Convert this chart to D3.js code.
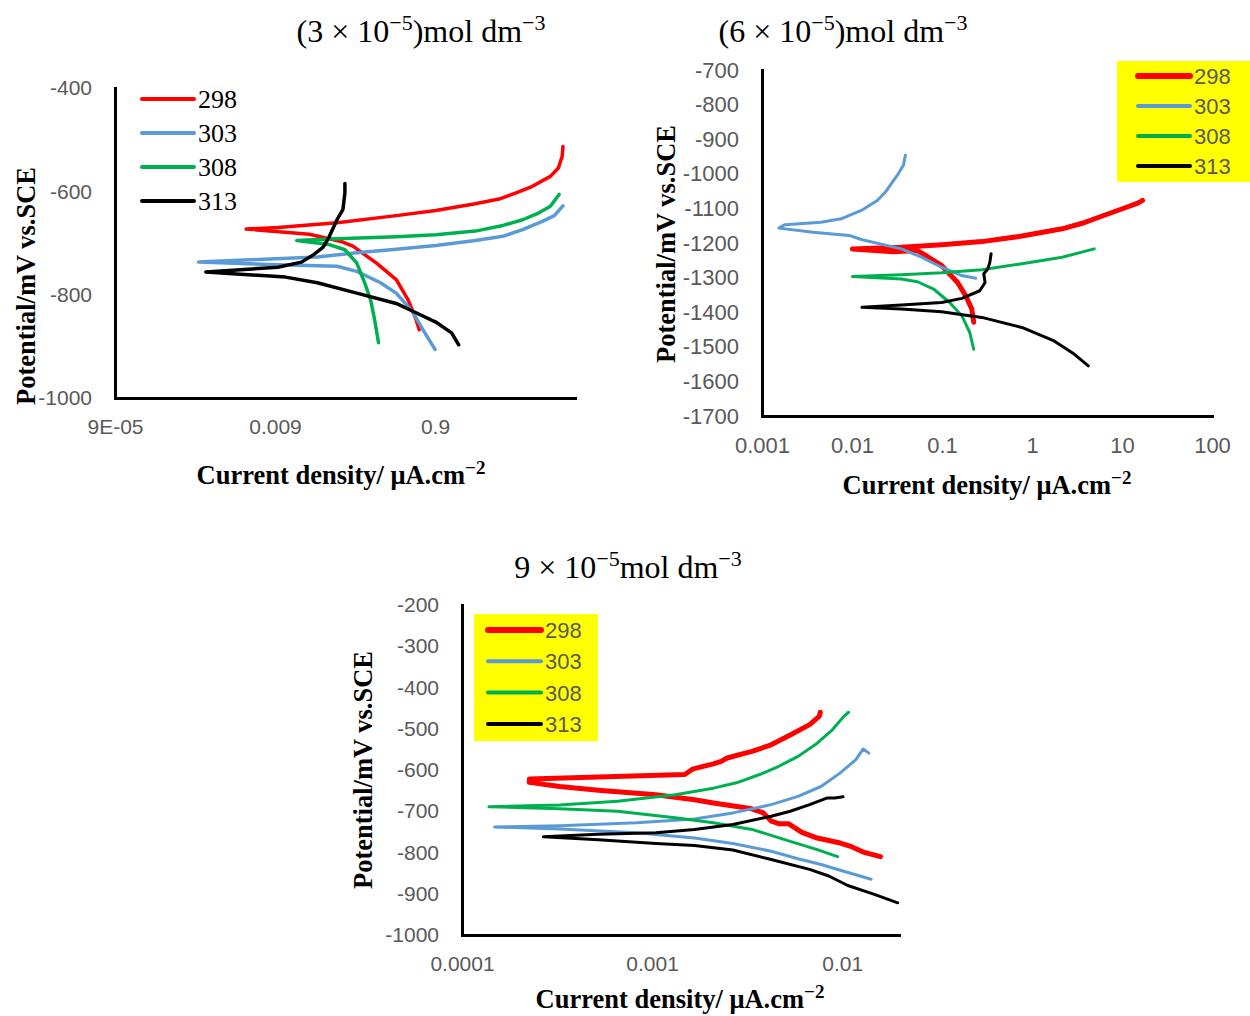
<!doctype html>
<html>
<head>
<meta charset="utf-8">
<title>Polarization curves</title>
<style>
  body { margin: 0; background: #fff; }
  .tick text { fill: #595959; font-family: "Liberation Sans", Arial, sans-serif; }
  .domain { stroke: #000; stroke-width: 3px; }
  .serif { font-family: "Liberation Serif", "Times New Roman", serif; }
</style>
<script src="https://cdn.jsdelivr.net/npm/d3@7"></script>
</head>
<body>
<svg width="1250" height="1016"></svg>
<script>

// temperatures (K) and their colours
var temps = ['298', '303', '308', '313'];
var colors = ['#FF0000', '#5B9BD5', '#00B050', '#000000'];

// [current density (uA/cm2), potential (mV)] cathodic end -> Ecorr -> anodic end
// panel 1: 3e-5 mol dm-3
var p1_298 = [[0.571,-868],[0.521,-848],[0.415,-810],[0.295,-771],[0.167,-739],[0.0846,-706],[0.0601,-697],[0.0242,-683],[0.00392,-673],[0.00975,-670],[0.0536,-661],[0.295,-647],[0.921,-637],[2.87,-624],[5.68,-615],[8.95,-604],[14.1,-592],[24.9,-571],[31.3,-555],[35.0,-532],[35.8,-513]];
var p1_303 = [[0.9,-906],[0.655,-871],[0.466,-832],[0.295,-797],[0.1876,-777],[0.0947,-755],[0.0536,-745],[0.00975,-742],[0.001,-737],[0.00552,-732],[0.0304,-727],[0.0947,-719],[0.295,-712],[0.921,-705],[2.87,-695],[6.36,-687],[11.2,-674],[19.8,-658],[27.9,-647],[35.8,-628]];
var p1_308 = [[0.177,-893],[0.158,-848],[0.141,-810],[0.119,-777],[0.0947,-739],[0.0673,-713],[0.0428,-703],[0.0168,-695],[0.0536,-692],[0.295,-688],[0.921,-684],[2.87,-677],[6.36,-666],[11.2,-655],[17.7,-642],[24.9,-629],[32.0,-606]];
var p1_313 = [[1.78,-897],[1.45,-874],[0.921,-853],[0.521,-835],[0.295,-817],[0.0947,-797],[0.0304,-777],[0.0122,-766],[0.00123,-756],[0.00975,-747],[0.0193,-737],[0.0271,-723],[0.036,-708],[0.0428,-688],[0.0536,-655],[0.0636,-635],[0.0673,-603],[0.0673,-585]];

// panel 2: 6e-5 mol dm-3
var p2_298 = [[0.225,-1429],[0.214,-1391],[0.183,-1352],[0.149,-1314],[0.099,-1265],[0.0656,-1236],[0.0534,-1222],[0.0288,-1225],[0.0101,-1217],[0.0354,-1212],[0.099,-1205],[0.277,-1196],[0.773,-1180],[2.16,-1159],[3.61,-1143],[6.04,-1122],[10.1,-1101],[15.2,-1084],[16.9,-1077]];
var p2_303 = [[0.237,-1302],[0.166,-1294],[0.099,-1270],[0.0592,-1241],[0.0354,-1217],[0.0127,-1190],[0.0093,-1178],[0.00369,-1169],[0.00154,-1157],[0.0018,-1147],[0.00453,-1140],[0.00757,-1130],[0.0127,-1106],[0.0191,-1077],[0.0235,-1053],[0.0319,-1004],[0.0373,-975],[0.0392,-946]];
var p2_308 = [[0.225,-1507],[0.203,-1458],[0.166,-1410],[0.1216,-1372],[0.0806,-1333],[0.0534,-1312],[0.0354,-1304],[0.0101,-1297],[0.0354,-1292],[0.099,-1286],[0.277,-1277],[0.773,-1260],[2.16,-1241],[4.92,-1217]];
var p2_313 = [[4.22,-1555],[2.94,-1521],[1.76,-1483],[0.773,-1444],[0.277,-1415],[0.099,-1399],[0.0354,-1391],[0.0129,-1386],[0.0354,-1379],[0.099,-1372],[0.166,-1360],[0.263,-1338],[0.301,-1314],[0.291,-1289],[0.323,-1275],[0.340,-1256],[0.351,-1231]];

// panel 3: 9e-5 mol dm-3
var p3_298 = [[0.0159,-810],[0.0129,-799],[0.0112,-786],[0.00977,-777],[0.00739,-765],[0.00614,-751],[0.00521,-730],[0.00464,-730],[0.00423,-724],[0.00385,-704],[0.00335,-694],[0.0021,-680],[0.00167,-672],[0.001047,-660],[0.000521,-649],[0.000327,-640],[0.000226,-630],[0.000226,-622],[0.000521,-617],[0.001486,-611],[0.00163,-598],[0.0021,-585],[0.00231,-579],[0.00248,-571],[0.00335,-555],[0.00423,-539],[0.00533,-515],[0.00674,-490],[0.00757,-470],[0.00767,-460]];
var p3_303 = [[0.0142,-865],[0.00977,-843],[0.00774,-829],[0.00586,-815],[0.00423,-797],[0.00266,-778],[0.00167,-765],[0.00083,-752],[0.000327,-743],[0.0001485,-738],[0.000327,-735],[0.00083,-728],[0.00167,-719],[0.00266,-704],[0.00423,-684],[0.00586,-664],[0.00774,-640],[0.00977,-607],[0.0118,-575],[0.0129,-549],[0.0138,-559]];
var p3_308 = [[0.00946,-810],[0.00739,-793],[0.00533,-773],[0.00335,-744],[0.0021,-728],[0.00132,-716],[0.000658,-700],[0.000327,-694],[0.0001385,-689],[0.000327,-685],[0.000658,-676],[0.00132,-660],[0.0021,-644],[0.00278,-631],[0.00368,-611],[0.00464,-591],[0.00586,-567],[0.00739,-535],[0.0089,-502],[0.0102,-470],[0.0108,-460]];
var p3_313 = [[0.0196,-922],[0.0149,-902],[0.0107,-880],[0.0085,-857],[0.00674,-841],[0.00423,-817],[0.00266,-794],[0.00167,-783],[0.001047,-778],[0.000521,-769],[0.000268,-762],[0.000521,-756],[0.001047,-752],[0.00167,-744],[0.00266,-732],[0.00423,-712],[0.00533,-700],[0.00674,-684],[0.0083,-668],[0.00912,-668],[0.0101,-665]];

// axis domains and ticks
var p1XDomain = [9e-5, 50.6], p1YDomain = [-1000, -400];
var p1XTicks = [9e-5, 0.009, 0.9], p1XLabels = ['9E-05', '0.009', '0.9'];
var p1YTicks = [-400, -600, -800, -1000];

var p2XDomain = [0.001, 100], p2YDomain = [-1700, -700];
var p2XTicks = [0.001, 0.01, 0.1, 1, 10, 100], p2XLabels = ['0.001', '0.01', '0.1', '1', '10', '100'];
var p2YTicks = [-700, -800, -900, -1000, -1100, -1200, -1300, -1400, -1500, -1600, -1700];

var p3XDomain = [0.0001, 0.0199], p3YDomain = [-1000, -200];
var p3XTicks = [0.0001, 0.001, 0.01], p3XLabels = ['0.0001', '0.001', '0.01'];
var p3YTicks = [-200, -300, -400, -500, -600, -700, -800, -900, -1000];

var svg = d3.select('svg');

function drawPanel(o) {
  var x = d3.scaleLog().domain(o.xDomain).range([o.left, o.right]);
  var y = d3.scaleLinear().domain(o.yDomain).range([o.bottom, o.top]);

  var g = svg.append('g');

  // title with superscripts
  var t = g.append('text').attr('class', 'serif')
    .attr('x', o.titleX).attr('y', o.titleY)
    .attr('text-anchor', 'middle')
    .style('font-size', '32px');
  o.title.forEach(function(p) {
    var s = t.append('tspan').text(p[0]);
    if (p[1] === 'sup') s.attr('dy', -12).style('font-size', '22px');
    if (p[1] === 'down') s.attr('dy', 12);
  });

  // axes
  var xAxis = d3.axisBottom(x).tickValues(o.xTicks).tickSize(0).tickPadding(21)
    .tickFormat(function(d, i) { return o.xLabels[i]; });
  g.append('g').attr('transform', 'translate(0,' + o.bottom + ')').call(xAxis)
    .selectAll('text').style('font-size', o.tickSize + 'px');

  var yAxis = d3.axisLeft(y).tickValues(o.yTicks).tickSize(0).tickPadding(23)
    .tickFormat(function(d) { return String(d); });
  g.append('g').attr('transform', 'translate(' + o.left + ',0)').call(yAxis)
    .selectAll('text').style('font-size', o.tickSize + 'px');
  g.selectAll('.domain').attr('stroke-linecap', 'square');

  // axis titles
  g.append('text').attr('class', 'serif')
    .attr('transform', 'translate(' + o.yTitleX + ',' + o.yTitleY + ') rotate(-90)')
    .attr('text-anchor', 'middle')
    .style('font-size', '26.5px').style('font-weight', 'bold')
    .text('Potential/mV vs.SCE');

  var xt = g.append('text').attr('class', 'serif')
    .attr('x', o.xTitleX).attr('y', o.xTitleY)
    .attr('text-anchor', 'middle')
    .style('font-size', '26.5px').style('font-weight', 'bold');
  xt.append('tspan').text('Current density/ \u03bcA.cm');
  xt.append('tspan').text('\u22122').attr('dy', -10).style('font-size', '19px');

  // curves
  var line = d3.line()
    .x(function(d) { return x(d[0]); })
    .y(function(d) { return y(d[1]); });

  o.data.forEach(function(d, i) {
    g.append('path')
      .attr('d', line(d))
      .attr('fill', 'none')
      .attr('stroke', colors[i])
      .attr('stroke-width', o.widths[i])
      .attr('stroke-linejoin', 'round')
      .attr('stroke-linecap', 'round');
  });

  // legend
  var lg = g.append('g');
  if (o.legendBox) {
    lg.append('rect')
      .attr('x', o.legendBox[0]).attr('y', o.legendBox[1])
      .attr('width', o.legendBox[2]).attr('height', o.legendBox[3])
      .attr('fill', '#FFFF00');
  }
  temps.forEach(function(tp, i) {
    var ly = o.legendY + i * o.legendStep;
    lg.append('line')
      .attr('x1', o.legendX).attr('x2', o.legendX + o.legendLen)
      .attr('y1', ly).attr('y2', ly)
      .attr('stroke', colors[i])
      .attr('stroke-width', o.legendWidths[i])
      .attr('stroke-linecap', 'round');
    lg.append('text')
      .attr('x', o.legendX + o.legendLen + 4).attr('y', ly + o.legendDy)
      .attr('fill', o.legendColor)
      .style('font-family', o.legendFont)
      .style('font-size', o.legendSize + 'px')
      .text(tp);
  });
}

drawPanel({
  xDomain: p1XDomain, yDomain: p1YDomain,
  xTicks: p1XTicks, xLabels: p1XLabels, yTicks: p1YTicks,
  left: 115, right: 575, top: 88, bottom: 398, tickSize: 21,
  title: [['(3 \u00d7 10'], ['\u22125', 'sup'], [')mol dm', 'down'], ['\u22123', 'sup']],
  titleX: 421, titleY: 42,
  yTitleX: 35, yTitleY: 286, xTitleX: 341, xTitleY: 484,
  data: [p1_298, p1_303, p1_308, p1_313],
  widths: [3.5, 3.5, 3.5, 3.5],
  legendBox: null, legendX: 142, legendLen: 52, legendY: 99, legendStep: 34,
  legendWidths: [4, 4, 4, 4], legendDy: 9, legendColor: '#000',
  legendFont: '"Liberation Serif", serif', legendSize: 26
});

drawPanel({
  xDomain: p2XDomain, yDomain: p2YDomain,
  xTicks: p2XTicks, xLabels: p2XLabels, yTicks: p2YTicks,
  left: 762, right: 1212, top: 70, bottom: 416, tickSize: 22,
  title: [['(6 \u00d7 10'], ['\u22125', 'sup'], [')mol dm', 'down'], ['\u22123', 'sup']],
  titleX: 843, titleY: 42,
  yTitleX: 675, yTitleY: 244, xTitleX: 987, xTitleY: 494,
  data: [p2_298, p2_303, p2_308, p2_313],
  widths: [5, 3, 3, 3],
  legendBox: [1117, 61, 133, 121], legendX: 1138, legendLen: 52, legendY: 76, legendStep: 30,
  legendWidths: [6, 4, 4, 4], legendDy: 8, legendColor: '#595959',
  legendFont: '"Liberation Sans", sans-serif', legendSize: 22
});

drawPanel({
  xDomain: p3XDomain, yDomain: p3YDomain,
  xTicks: p3XTicks, xLabels: p3XLabels, yTicks: p3YTicks,
  left: 462, right: 899, top: 605, bottom: 935, tickSize: 21,
  title: [['9 \u00d7 10'], ['\u22125', 'sup'], ['mol dm', 'down'], ['\u22123', 'sup']],
  titleX: 628, titleY: 578,
  yTitleX: 372, yTitleY: 770, xTitleX: 680, xTitleY: 1008,
  data: [p3_298, p3_303, p3_308, p3_313],
  widths: [5, 3, 3, 3],
  legendBox: [474, 614, 124, 127], legendX: 488, legendLen: 53, legendY: 630, legendStep: 31.3,
  legendWidths: [6, 4, 4, 4], legendDy: 8, legendColor: '#595959',
  legendFont: '"Liberation Sans", sans-serif', legendSize: 22
});

</script>
</body>
</html>
